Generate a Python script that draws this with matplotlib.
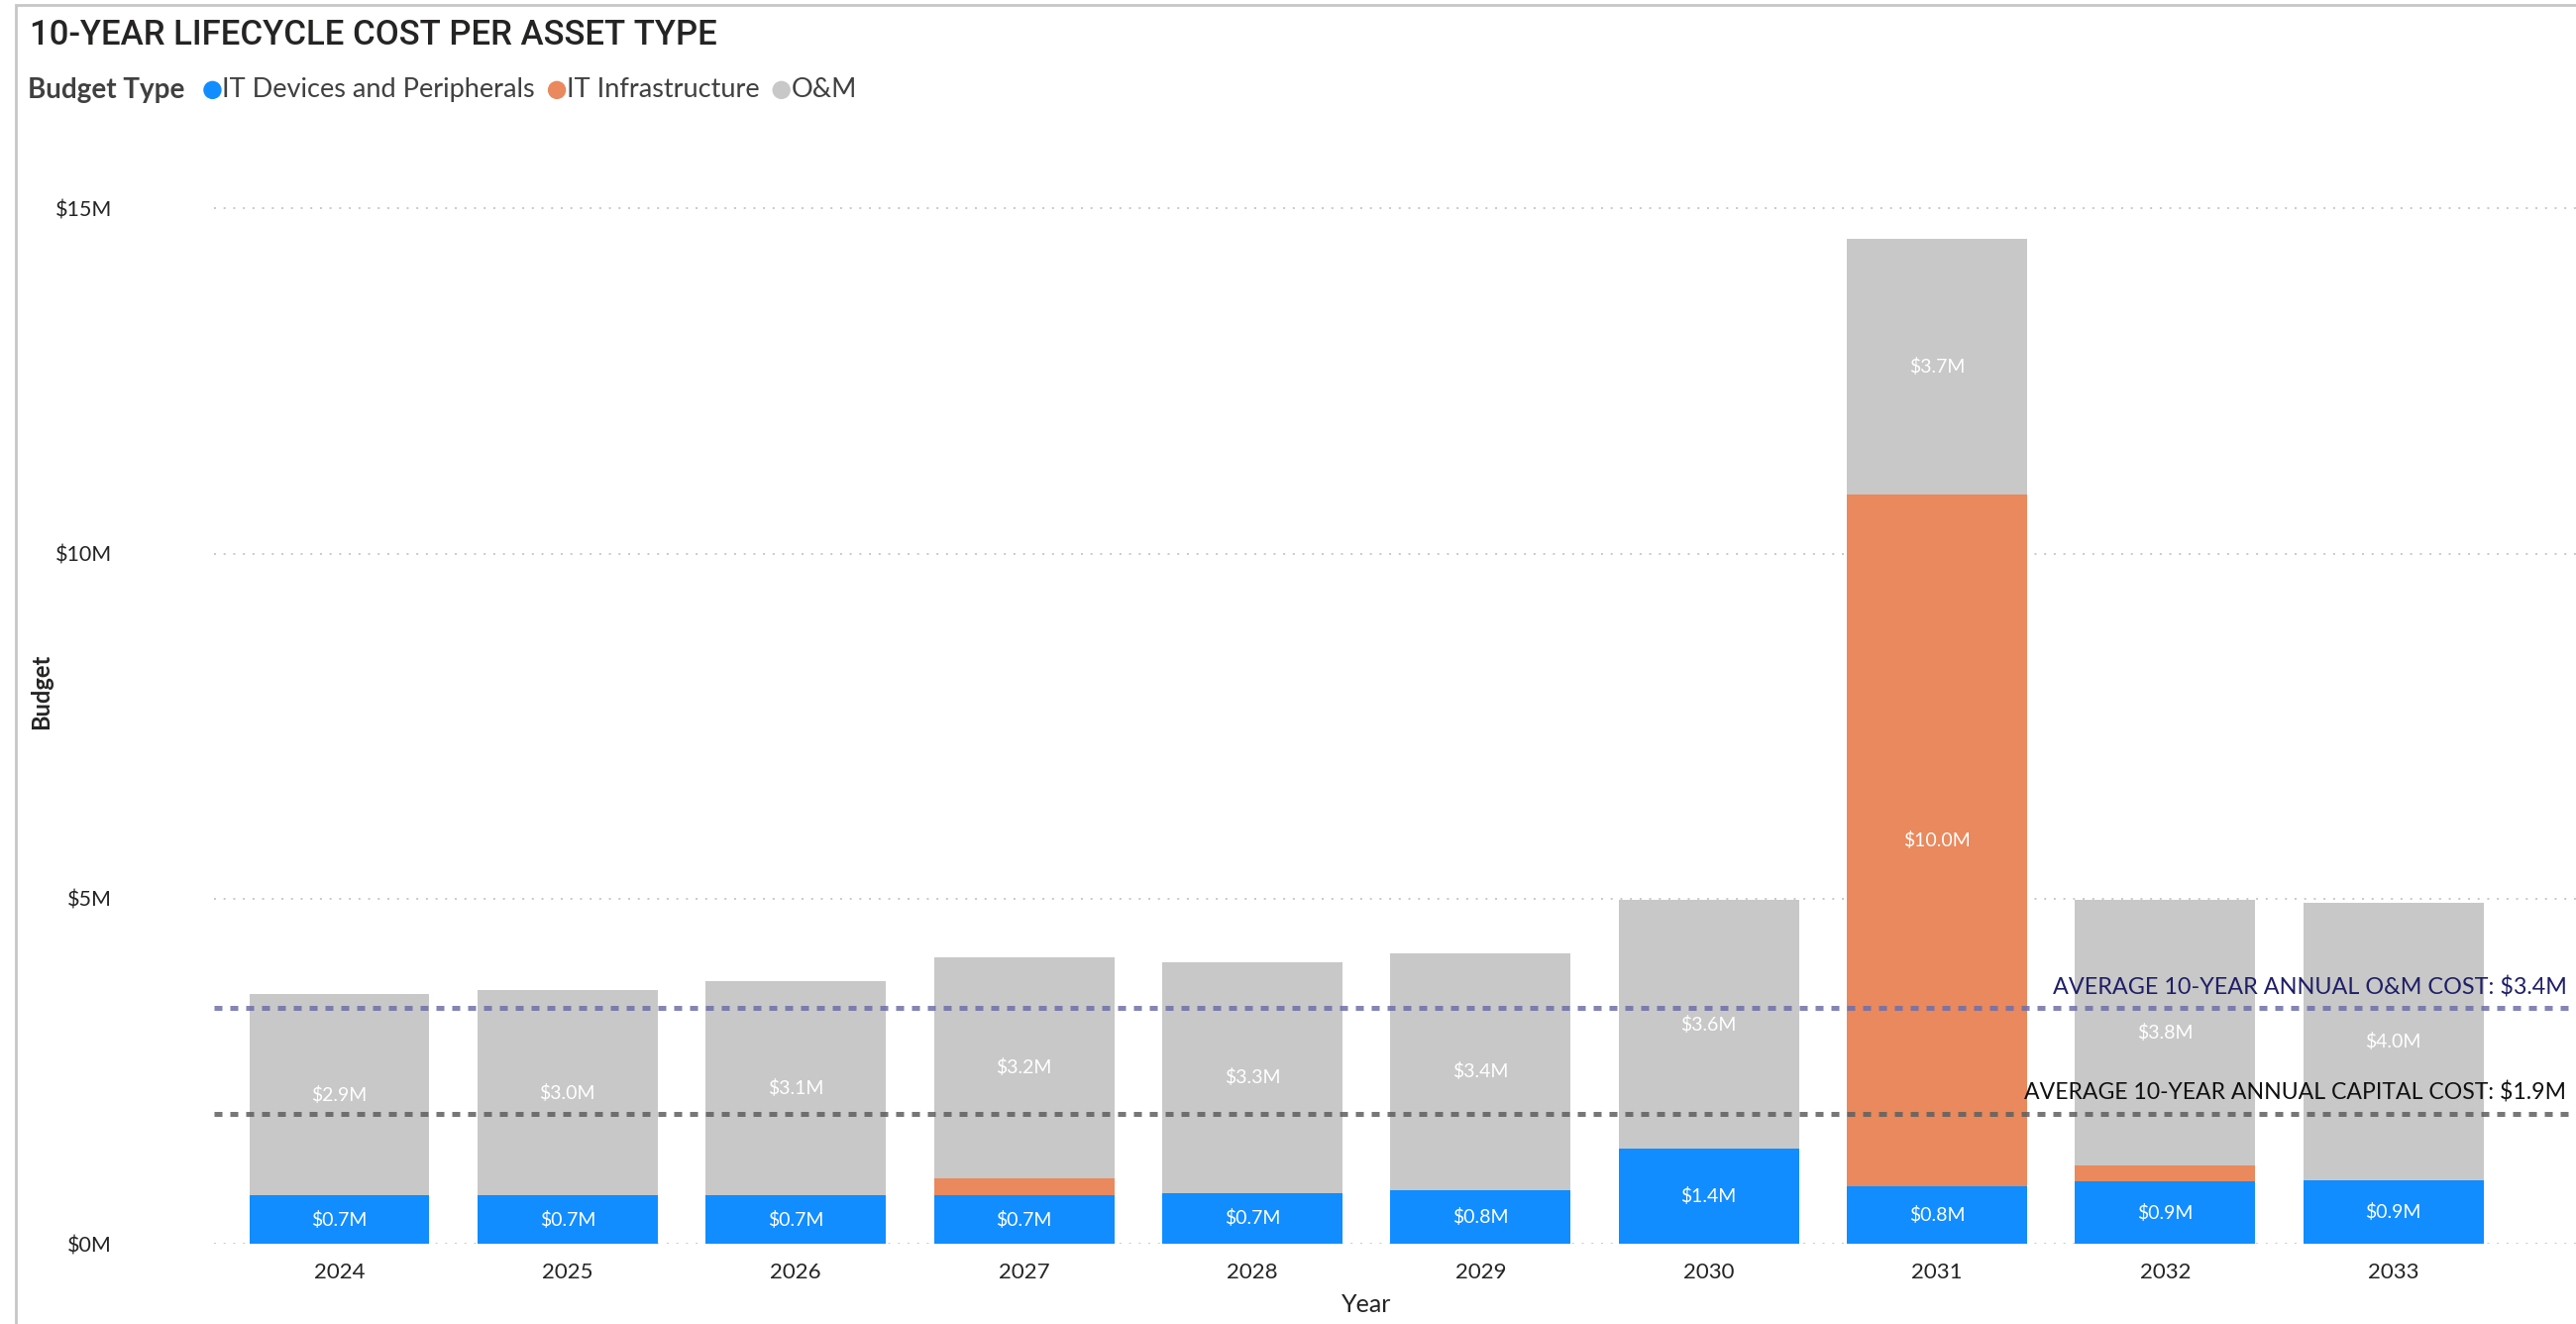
import matplotlib
matplotlib.use("Agg")
import matplotlib.pyplot as plt
from matplotlib import font_manager
from matplotlib.patches import Rectangle, Circle
import numpy as np


def pick_font(names):
    """Return the first installed family from names."""
    for name in names:
        try:
            font_manager.findfont(name, fallback_to_default=False)
            return name
        except ValueError:
            continue
    return "DejaVu Sans"


BODY_FONT = pick_font(["Lato", "Open Sans", "Noto Sans"])
TITLE_FONT = pick_font(["Liberation Sans Narrow", "Roboto", "Lato"])
plt.rcParams["font.family"] = [BODY_FONT, "DejaVu Sans"]

# budget per year, in $M
years = ["2024", "2025", "2026", "2027", "2028", "2029", "2030", "2031", "2032", "2033"]
it_devices = [0.70, 0.70, 0.70, 0.70, 0.74, 0.78, 1.38, 0.83, 0.90, 0.92]
it_infrastructure = [0.0, 0.0, 0.0, 0.25, 0.0, 0.0, 0.0, 10.03, 0.24, 0.0]
om = [2.92, 2.97, 3.10, 3.20, 3.34, 3.43, 3.60, 3.70, 3.84, 4.02]

series_names = ["IT Devices and Peripherals", "IT Infrastructure", "O&M"]
series_colors = ["#118DFF", "#E9895D", "#C8C8C8"]

avg_om = np.mean(om)
avg_capital = np.mean(np.array(it_devices) + np.array(it_infrastructure))

W, H = 2600, 1336
fig = plt.figure(figsize=(W / 100, H / 100), dpi=100)
ax = fig.add_axes([0.083, 0.0606, 0.917, 0.834])

x = np.arange(len(years))
bottom = np.zeros(len(years))
for name, vals, color in zip(series_names, [it_devices, it_infrastructure, om], series_colors):
    vals = np.array(vals)
    ax.bar(x, vals, width=0.79, bottom=bottom, color=color, zorder=2)
    for xi, b, v in zip(x, bottom, vals):
        if v >= 0.5:
            ax.text(xi, b + v / 2, f"${v:.1f}M", ha="center", va="center",
                    color="white", fontsize=14, zorder=3)
    bottom += vals

# average reference lines
ax.axhline(avg_om, color="#6E6EAA", lw=3.6, ls=(0, (1.6, 1.6)), alpha=0.85, zorder=4)
ax.axhline(avg_capital, color="#5F5F5F", lw=3.6, ls=(0, (1.6, 1.6)), alpha=0.85, zorder=4)
ax.text(0.996, avg_om + 0.14, f"AVERAGE 10-YEAR ANNUAL O&M COST: ${avg_om:.1f}M",
        transform=ax.get_yaxis_transform(), ha="right", va="bottom",
        color="#1F1F66", fontsize=16.8, zorder=5)
ax.text(0.996, avg_capital + 0.14, f"AVERAGE 10-YEAR ANNUAL CAPITAL COST: ${avg_capital:.1f}M",
        transform=ax.get_yaxis_transform(), ha="right", va="bottom",
        color="#111111", fontsize=16.6, zorder=5)

ax.set_xlim(-0.55, 9.8)
ax.set_ylim(0, 16)
ax.set_xticks(x)
ax.set_xticklabels(years, fontsize=16, color="#252423")
ax.set_yticks([0, 5, 10, 15])
ax.set_yticklabels(["$0M", "$5M", "$10M", "$15M"], fontsize=15.5, color="#252423")
ax.tick_params(length=0, pad=14)
ax.tick_params(axis="y", pad=74)
ax.yaxis.grid(True, color="#C8C8C8", ls=(0, (1, 4)), lw=1.4, zorder=0)
for s in ax.spines.values():
    s.set_visible(False)

ax.set_xlabel("Year", fontsize=18, color="#252423", labelpad=12)
ax.xaxis.set_label_coords(0.488, -0.045)
ax.set_ylabel("Budget", fontsize=17, color="#252423", fontweight="bold", labelpad=2)

# title and legend row
fig.text(0.0115, 0.986, "10-YEAR LIFECYCLE COST PER ASSET TYPE", family=TITLE_FONT,
         fontsize=25, fontweight="medium", color="#252423", va="top")

renderer = fig.canvas.get_renderer()
legend_y = 0.932
head = fig.text(0.0108, legend_y, "Budget Type", fontsize=20, fontweight="bold",
                color="#404040", va="center")
cursor = head.get_window_extent(renderer).x1 + 28
for name, color in zip(series_names, series_colors):
    fig.patches.append(Circle((cursor, legend_y * H), 8.5, color=color,
                              transform=None, figure=fig))
    t = fig.text((cursor + 10) / W, legend_y, name, fontsize=19.5, color="#404040", va="center")
    cursor = t.get_window_extent(renderer).x1 + 22

# visual border
fig.patches.append(Rectangle((0.006, -0.01), 1.0, 1.006, transform=fig.transFigure,
                             fill=False, edgecolor="#C6C6C6", lw=2))

fig.savefig("out.png", dpi=100)
